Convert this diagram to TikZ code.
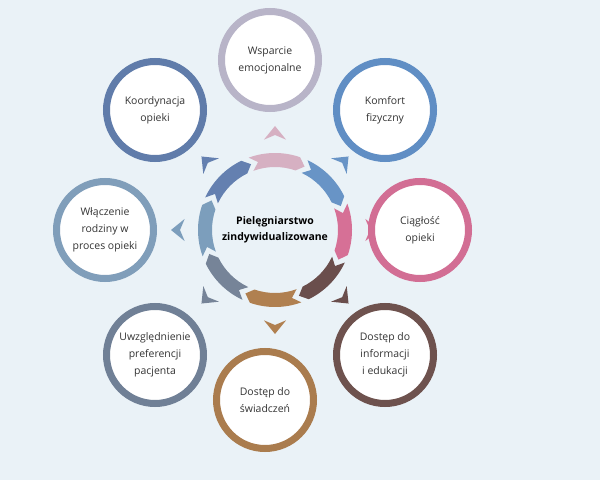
\documentclass[tikz,border=0pt]{standalone}
\usepackage{fontspec}
\setmainfont{Open Sans}
\usetikzlibrary{calc}
\begin{document}
\begin{tikzpicture}[x=1bp,y=-1bp,
  outer/.style={circle,draw=#1,line width=7bp,fill=white,minimum size=97bp,inner sep=0pt,align=center,font=\fontsize{10.5}{17}\selectfont,text=black!80}]
\fill[color={rgb,255:red,234;green,242;blue,247}] (0,0) rectangle (600,480);
\useasboundingbox (0,0) rectangle (600,480);
\definecolor{cA}{RGB}{184,180,200}
\definecolor{cB}{RGB}{96,142,196}
\definecolor{cC}{RGB}{210,110,148}
\definecolor{cD}{RGB}{110,82,78}
\definecolor{cE}{RGB}{170,124,78}
\definecolor{cF}{RGB}{112,128,150}
\definecolor{cG}{RGB}{128,158,186}
\definecolor{cH}{RGB}{96,124,170}
\definecolor{sA}{RGB}{214,176,194}
\definecolor{sB}{RGB}{104,148,198}
\definecolor{sC}{RGB}{214,112,150}
\definecolor{sD}{RGB}{106,78,76}
\definecolor{sE}{RGB}{176,128,80}
\definecolor{sF}{RGB}{118,132,152}
\definecolor{sG}{RGB}{124,158,188}
\definecolor{sH}{RGB}{100,128,176}
\coordinate (c) at (275,230);
\foreach \a/\col in {90/sA,45/sB,0/sC,-45/sD,-90/sE,-135/sF,180/sG,135/sH}{
  \pgfmathsetmacro\s{-(\a+20)}\pgfmathsetmacro\e{-(\a-19)}
  \pgfmathsetmacro\et{-(\a-25)}\pgfmathsetmacro\st{-(\a+14)}
  \pgfmathsetmacro\m{-\a}\pgfmathsetmacro\ml{-\a-7}\pgfmathsetmacro\mr{-\a+7}
  \fill[\col] ($(c)+(\s:77)$) arc[start angle=\s,end angle=\e,radius=77] -- ($(c)+(\et:70)$) -- ($(c)+(\e:63)$) arc[start angle=\e,end angle=\s,radius=63] -- ($(c)+(\st:70)$) -- cycle;
  \fill[\col] ($(c)+(\m:104)$) -- ($(c)+(\ml:91)$) -- ($(c)+(\m:95)$) -- ($(c)+(\mr:91)$) -- cycle;
}
\node[font=\bfseries\fontsize{10.5}{16}\selectfont,align=center] (center) at (c) {Pielęgniarstwo\\zindywidualizowane};
\node[outer=cA] (n1) at (270,60) {Wsparcie\\emocjonalne};
\node[outer=cB] (n2) at (385,110) {Komfort\\fizyczny};
\node[outer=cC] (n3) at (420,230) {Ciągłość\\opieki};
\node[outer=cD] (n4) at (385,355) {Dostęp do\\informacji\\i edukacji};
\node[outer=cE] (n5) at (265,400) {Dostęp do\\świadczeń};
\node[outer=cF] (n6) at (155,355) {Uwzględnienie\\preferencji\\pacjenta};
\node[outer=cG] (n7) at (105,230) {Włączenie\\rodziny w\\proces opieki};
\node[outer=cH] (n8) at (155,110) {Koordynacja\\opieki};
\end{tikzpicture}
\end{document}
